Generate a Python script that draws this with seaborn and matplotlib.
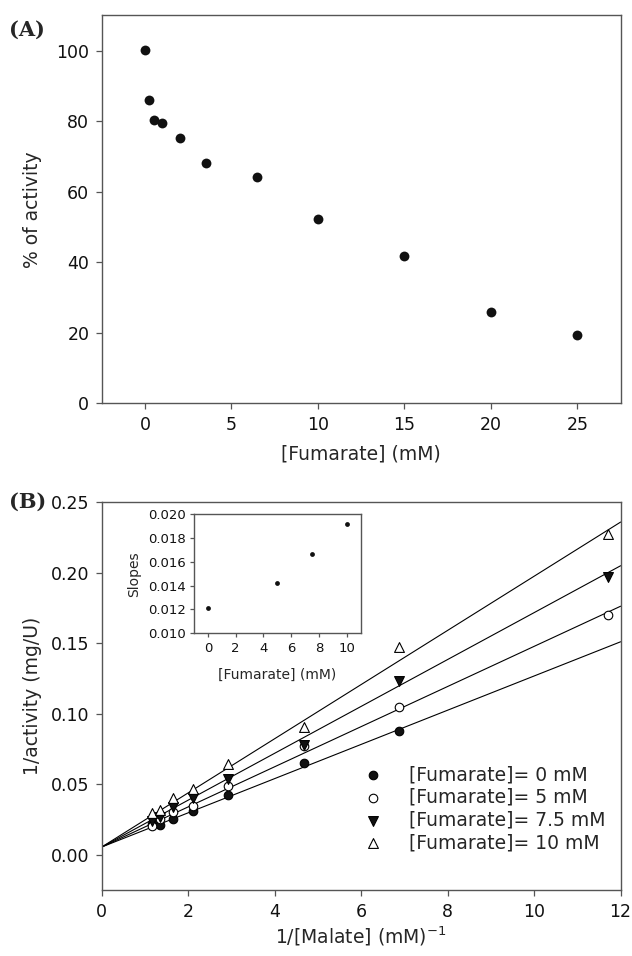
import numpy as np
import pandas as pd
import matplotlib
matplotlib.use("Agg")
import matplotlib.pyplot as plt
import seaborn as sns

# =========================================================
# DATA
# =========================================================
# (A) inhibition by fumarate
fumarate_mm = [0, 0.25, 0.5, 1, 2, 3.5, 6.5, 10, 15, 20, 25]
activity_pct = [100.2, 85.9, 80.2, 79.5, 75.2, 68.2, 64.2, 52.3, 41.8, 26.0, 19.5]

# (B) double reciprocal plot
inv_malate = [1.17, 1.35, 1.65, 2.1, 2.92, 4.67, 6.87, 11.7]
inv_act_0 = [0.0215, 0.0210, 0.0253, 0.0307, 0.0423, 0.0650, 0.0875, np.nan]
inv_act_5 = [0.0205, 0.0250, 0.0300, 0.0345, 0.0487, 0.0768, 0.1047, 0.1697]
inv_act_75 = [0.0240, 0.0265, 0.0335, 0.0400, 0.0540, 0.0780, 0.1230, 0.1965]
inv_act_10 = [0.0298, 0.0320, 0.0400, 0.0468, 0.0640, 0.0905, 0.1470, 0.2270]
series_labels = ["[Fumarate]= 0 mM", "[Fumarate]= 5 mM",
                 "[Fumarate]= 7.5 mM", "[Fumarate]= 10 mM"]

# fitted lines (common intercept) and inset slopes
fit_intercept = 0.0055
inset_fumarate = [0, 5, 7.5, 10]
inset_slopes = [0.01212, 0.01422, 0.01661, 0.01919]

# =========================================================
# STYLE
# =========================================================
sns.set_style("ticks")
plt.rcParams["font.family"] = ["DejaVu Sans"]
spine_col = "#555555"
plt.rcParams.update({
    "axes.edgecolor": spine_col,
    "axes.linewidth": 1.0,
    "xtick.color": spine_col,
    "ytick.color": spine_col,
    "xtick.labelcolor": "#111111",
    "ytick.labelcolor": "#111111",
    "xtick.direction": "out",
    "ytick.direction": "out",
    "xtick.major.size": 4,
    "ytick.major.size": 4,
    "xtick.major.width": 0.9,
    "ytick.major.width": 0.9,
})

fig = plt.figure(figsize=(6.32, 9.56), dpi=100)
ax_a = fig.add_axes([0.161, 0.5781, 0.821, 0.4059])
ax_b = fig.add_axes([0.161, 0.0690, 0.821, 0.4059])
ax_in = fig.add_axes([0.307, 0.3375, 0.2638, 0.1248])

# =========================================================
# (A)
# =========================================================
sns.scatterplot(x=fumarate_mm, y=activity_pct, ax=ax_a, color="#111111",
                s=50, linewidth=0, zorder=3)
ax_a.set_xlim(-2.5, 27.5)
ax_a.set_ylim(0, 110)
ax_a.set_xticks(range(0, 26, 5))
ax_a.set_yticks(range(0, 101, 20))
ax_a.tick_params(labelsize=12.5, pad=5)
ax_a.set_xlabel("[Fumarate] (mM)", fontsize=13.5)
ax_a.set_ylabel("% of activity", fontsize=13.5)
ax_a.xaxis.set_label_coords(0.5, -0.105)
ax_a.yaxis.set_label_coords(-0.115, 0.5)

# =========================================================
# (B)
# =========================================================
df_b = pd.DataFrame({
    "x": inv_malate * 4,
    "y": inv_act_0 + inv_act_5 + inv_act_75 + inv_act_10,
    "series": np.repeat(series_labels, len(inv_malate)),
})

x_fit = np.array([0, 12])
for slope in inset_slopes:
    sns.lineplot(x=x_fit, y=fit_intercept + slope * x_fit, ax=ax_b,
                 color="black", linewidth=0.8, zorder=2)

marker_styles = {
    series_labels[0]: dict(marker="o", color="#111111", s=38),
    series_labels[1]: dict(marker="o", color="white", s=38),
    series_labels[2]: dict(marker="v", color="#111111", s=50),
    series_labels[3]: dict(marker="^", color="white", s=50),
}
for name in series_labels:
    sub = df_b[df_b["series"] == name].dropna()
    sns.scatterplot(data=sub, x="x", y="y", ax=ax_b, edgecolor="black",
                    linewidth=0.8, label=name, zorder=3, **marker_styles[name])

ax_b.set_xlim(0, 12)
ax_b.set_ylim(-0.025, 0.25)
ax_b.set_xticks(range(0, 13, 2))
ax_b.set_yticks(np.arange(0, 0.26, 0.05))
ax_b.yaxis.set_major_formatter(matplotlib.ticker.FormatStrFormatter("%.2f"))
ax_b.tick_params(labelsize=12.5, pad=5)
ax_b.set_xlabel("1/[Malate] (mM)$^{-1}$", fontsize=13.5)
ax_b.set_ylabel("1/activity (mg/U)", fontsize=13.5)
ax_b.xaxis.set_label_coords(0.5, -0.088)
ax_b.yaxis.set_label_coords(-0.115, 0.5)
ax_b.legend(loc="upper left", bbox_to_anchor=(0.5056, 0.322), frameon=False,
            fontsize=13.5, handlelength=1.0, handletextpad=1.4,
            labelspacing=0.2, borderpad=0, borderaxespad=0)

# inset: slopes vs fumarate
sns.scatterplot(x=inset_fumarate, y=inset_slopes, ax=ax_in, color="#111111",
                s=12, linewidth=0, zorder=3)
ax_in.set_xlim(-1, 11)
ax_in.set_ylim(0.010, 0.020)
ax_in.set_xticks(range(0, 11, 2))
ax_in.set_yticks(np.arange(0.010, 0.0201, 0.002))
ax_in.yaxis.set_major_formatter(matplotlib.ticker.FormatStrFormatter("%.3f"))
ax_in.tick_params(labelsize=9.5, pad=3, length=3)
ax_in.set_xlabel("[Fumarate] (mM)", fontsize=10)
ax_in.set_ylabel("Slopes", fontsize=10)
ax_in.xaxis.set_label_coords(0.5, -0.29)
ax_in.yaxis.set_label_coords(-0.32, 0.5)

# panel letters
fig.text(27 / 632, 1 - 30 / 956, "(A)", family="DejaVu Serif", weight="bold",
         fontsize=15, ha="center", va="center")
fig.text(28 / 632, 1 - 502 / 956, "(B)", family="DejaVu Serif", weight="bold",
         fontsize=15, ha="center", va="center")

fig.savefig("out.png", dpi=100)
plt.close(fig)
